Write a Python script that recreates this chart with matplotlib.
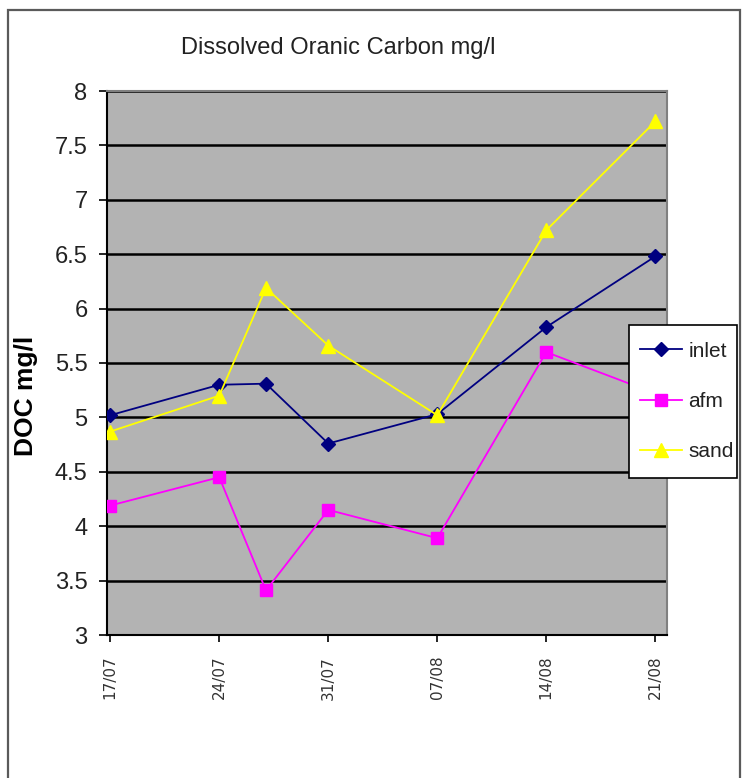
import numpy as np
import pandas as pd
import matplotlib
matplotlib.use("Agg")
import matplotlib.pyplot as plt
import matplotlib.dates as mdates
from matplotlib.patches import Rectangle

# sampling dates and DOC readings (mg/l)
dates = ["2007-07-17", "2007-07-24", "2007-07-27", "2007-07-31",
         "2007-08-07", "2007-08-14", "2007-08-21"]
inlet = [5.02, 5.30, 5.31, 4.76, 5.03, 5.83, 6.48]
afm = [4.19, 4.45, 3.41, 4.15, 3.89, 5.60, 5.22]
sand = [4.87, 5.20, 6.19, 5.66, 5.02, 6.72, 7.72]
tick_dates = ["2007-07-17", "2007-07-24", "2007-07-31",
              "2007-08-07", "2007-08-14", "2007-08-21"]
yticks = [3, 3.5, 4, 4.5, 5, 5.5, 6, 6.5, 7, 7.5, 8]

x = pd.to_datetime(dates)
xt = pd.to_datetime(tick_dates)

sans = ["Liberation Sans", "DejaVu Sans"]
W, H = 742, 778

fig = plt.figure(figsize=(W / 100, H / 100), dpi=100)
fig.patch.set_facecolor("white")

# chart area frame
fig.patches.append(Rectangle((8 / W, -0.05), 732 / W, 1.05 - 10 / H,
                             transform=fig.transFigure, fill=False,
                             edgecolor="#5a5a5a", lw=1.6))

ax = fig.add_axes([107 / W, 1 - 635 / H, 560 / W, 544 / H])
ax.set_facecolor("#b3b3b3")

ax.plot(x, inlet, color="#000080", marker="D", markersize=7, lw=1.3, label="inlet", zorder=3)
ax.plot(x, afm, color="#ff00ff", marker="s", markersize=9, lw=1.3, label="afm", zorder=3)
ax.plot(x, sand, color="#ffff00", marker="^", markersize=10, lw=1.3, label="sand", zorder=3)

ax.set_ylim(3, 8)
ax.set_yticks(yticks)
ax.set_yticklabels([f"{v:g}" for v in yticks], family=sans, fontsize=17, color="#222222")
ax.yaxis.grid(True, color="black", lw=1.8)
ax.set_axisbelow(True)

ax.set_xlim(x[0] - pd.Timedelta(hours=5), x[-1] + pd.Timedelta(hours=18))
ax.set_xticks(xt)
ax.xaxis.set_major_formatter(mdates.DateFormatter("%d/%m"))
for lbl in ax.get_xticklabels():
    lbl.set_rotation(90)
    lbl.set_fontsize(11)
    lbl.set_family(["DejaVu Sans"])
    lbl.set_color("#333333")

ax.tick_params(axis="y", length=6, width=1.2, pad=8)
ax.tick_params(axis="x", length=5, width=1.2, pad=10)

for side in ["top", "right"]:
    ax.spines[side].set_color("#808080")
    ax.spines[side].set_linewidth(1.5)
for side in ["left", "bottom"]:
    ax.spines[side].set_color("black")
    ax.spines[side].set_linewidth(1.5)

ax.set_ylabel("DOC mg/l", family=sans, fontsize=19, fontweight="bold")
ax.yaxis.set_label_coords(-(107 - 38) / 560, (635 - 396) / 544)

fig.text(338 / W, 1 - 48 / H, "Dissolved Oranic Carbon mg/l", family=sans,
         fontsize=17, ha="center", va="center", color="#222222")

# legend box drawn separately so its size can be set exactly
lx0, lx1, ly0, ly1 = 629, 737, 325, 478
fig.patches.append(Rectangle((lx0 / W, 1 - ly1 / H), (lx1 - lx0) / W, (ly1 - ly0) / H,
                             transform=fig.transFigure, facecolor="white",
                             edgecolor="black", lw=1.2, zorder=4))
leg = fig.legend(loc="center", bbox_to_anchor=((lx0 + lx1) / 2 / W + 4 / W, 1 - (ly0 + ly1) / 2 / H),
                 bbox_transform=fig.transFigure, borderaxespad=0, frameon=False,
                 prop={"family": sans, "size": 15},
                 handlelength=2.0, labelspacing=1.5, borderpad=0, handletextpad=0.3)
leg.set_zorder(5)
for t in leg.get_texts():
    t.set_color("#222222")

fig.savefig("out.png", dpi=100)
